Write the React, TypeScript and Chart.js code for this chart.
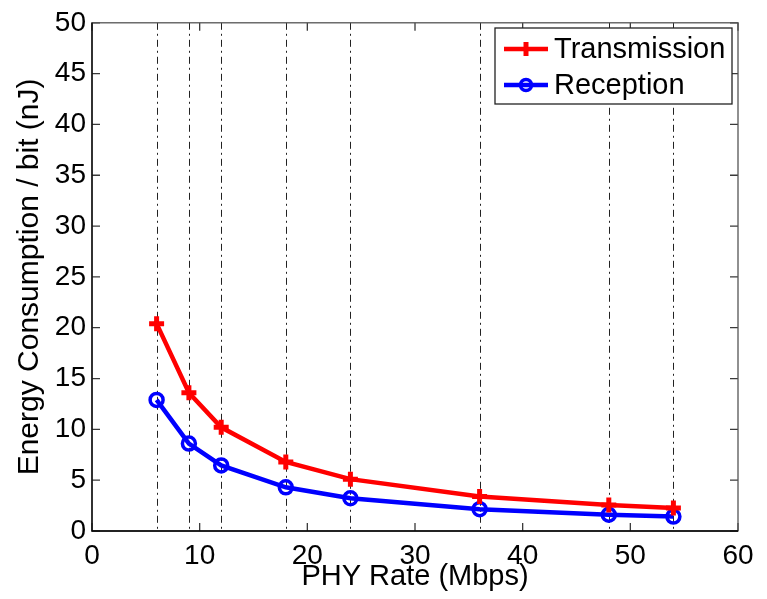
import React, { useEffect, useRef } from "react";
import { Chart, registerables } from "chart.js";

Chart.register(...registerables);

const rates = [6, 9, 12, 18, 24, 36, 48, 54];
const txEnergy = [20.4, 13.6, 10.2, 6.8, 5.1, 3.4, 2.55, 2.27];
const rxEnergy = [12.9, 8.6, 6.45, 4.3, 3.22, 2.15, 1.6, 1.42];
const seriesNames = ["Transmission", "Reception"];
const xTitle = "PHY Rate (Mbps)";
const yTitle = "Energy Consumption / bit (nJ)";

const FONT = "'Liberation Sans', Arial, Helvetica, sans-serif";
const RED = "#ff0000";
const BLUE = "#0000ff";

const framePlugin = {
  id: "matlabFrame",
  beforeDatasetsDraw(chart: any) {
    const { ctx, chartArea, scales } = chart;
    const xs = scales.x;
    ctx.save();
    ctx.strokeStyle = "#222";
    ctx.lineWidth = 1;
    ctx.setLineDash([7, 4, 2, 4]);
    rates.forEach((r) => {
      const px = Math.round(xs.getPixelForValue(r)) + 0.5;
      ctx.beginPath();
      ctx.moveTo(px, chartArea.top);
      ctx.lineTo(px, chartArea.bottom);
      ctx.stroke();
    });
    ctx.restore();
  },
  afterDraw(chart: any) {
    const { ctx, chartArea, scales } = chart;
    const { left, right, top, bottom } = chartArea;
    const tl = 8;
    ctx.save();
    ctx.setLineDash([]);
    ctx.strokeStyle = "#3a3a3a";
    ctx.lineWidth = 1.3;
    ctx.beginPath();
    scales.x.ticks.forEach((t: any) => {
      const px = scales.x.getPixelForValue(t.value);
      ctx.moveTo(px, bottom);
      ctx.lineTo(px, bottom - tl);
      ctx.moveTo(px, top);
      ctx.lineTo(px, top + tl);
    });
    scales.y.ticks.forEach((t: any) => {
      const py = scales.y.getPixelForValue(t.value);
      ctx.moveTo(left, py);
      ctx.lineTo(left + tl, py);
      ctx.moveTo(right, py);
      ctx.lineTo(right - tl, py);
    });
    ctx.stroke();
    ctx.strokeStyle = "#555";
    ctx.strokeRect(left, top, right - left, bottom - top);
    ctx.strokeStyle = "#000";
    ctx.beginPath();
    ctx.moveTo(left, top);
    ctx.lineTo(left, bottom);
    ctx.lineTo(right, bottom);
    ctx.stroke();

    // legend
    const bx = 495, by = 28, bw = 237, bh = 76;
    ctx.fillStyle = "#fff";
    ctx.fillRect(bx, by, bw, bh);
    ctx.strokeStyle = "#222";
    ctx.lineWidth = 1.3;
    ctx.strokeRect(bx, by, bw, bh);
    const rows = [49, 85];
    const colors = [RED, BLUE];
    rows.forEach((ry, i) => {
      ctx.strokeStyle = colors[i];
      ctx.lineWidth = 4.5;
      ctx.beginPath();
      ctx.moveTo(504, ry);
      ctx.lineTo(548, ry);
      ctx.stroke();
      if (i === 0) {
        ctx.lineWidth = 5;
        ctx.beginPath();
        ctx.moveTo(526, ry - 7);
        ctx.lineTo(526, ry + 7);
        ctx.stroke();
      } else {
        ctx.lineWidth = 3.5;
        ctx.beginPath();
        ctx.arc(526, ry, 5.5, 0, Math.PI * 2);
        ctx.stroke();
      }
      ctx.fillStyle = "#000";
      ctx.font = `29px ${FONT}`;
      ctx.textBaseline = "middle";
      ctx.textAlign = "left";
      ctx.fillText(seriesNames[i], 554, ry + 1);
    });
    ctx.restore();
  },
};

export default function App() {
  const ref = useRef<HTMLCanvasElement | null>(null);
  useEffect(() => {
    document.body.style.margin = "0";
    const canvas = ref.current!;
    const chart = new Chart(canvas, {
      type: "line",
      data: {
        datasets: [
          {
            label: seriesNames[0],
            data: rates.map((r, i) => ({ x: r, y: txEnergy[i] })),
            borderColor: RED,
            backgroundColor: RED,
            borderWidth: 4.5,
            pointStyle: "cross",
            pointRadius: 7.5,
            pointBorderWidth: 5,
            pointBorderColor: RED,
            tension: 0,
          },
          {
            label: seriesNames[1],
            data: rates.map((r, i) => ({ x: r, y: rxEnergy[i] })),
            borderColor: BLUE,
            backgroundColor: "rgba(0,0,0,0)",
            borderWidth: 4.5,
            pointStyle: "circle",
            pointRadius: 6.5,
            pointBorderWidth: 3.5,
            pointBorderColor: BLUE,
            pointBackgroundColor: "rgba(0,0,0,0)",
            tension: 0,
          },
        ],
      },
      options: {
        responsive: false,
        animation: false,
        layout: { padding: { top: 20, right: 29, left: 0, bottom: 0 } },
        plugins: { legend: { display: false }, tooltip: { enabled: false } },
        scales: {
          x: {
            type: "linear",
            min: 0,
            max: 60,
            ticks: {
              stepSize: 10,
              color: "#000",
              padding: 8,
              font: { family: FONT, size: 28 },
              maxRotation: 0,
            },
            grid: { display: false, drawTicks: false },
            border: { display: false },
            title: {
              display: true,
              text: xTitle,
              color: "#000",
              font: { family: FONT, size: 29 },
              padding: { top: 0, bottom: 5 },
            },
            afterFit(scale: any) {
              scale.height = 68;
            },
          },
          y: {
            type: "linear",
            min: 0,
            max: 50,
            ticks: {
              stepSize: 5,
              color: "#000",
              padding: 6,
              font: { family: FONT, size: 28 },
            },
            grid: { display: false, drawTicks: false },
            border: { display: false },
            title: {
              display: true,
              text: yTitle,
              color: "#000",
              font: { family: FONT, size: 30 },
              padding: { top: 12, bottom: 0 },
            },
            afterFit(scale: any) {
              scale.width = 92;
            },
          },
        },
      },
      plugins: [framePlugin],
    });
    return () => chart.destroy();
  }, []);
  return (
    <div style={{ position: "absolute", left: 0, top: 0, width: 767, height: 599 }}>
      <canvas ref={ref} width={767} height={599} />
    </div>
  );
}
